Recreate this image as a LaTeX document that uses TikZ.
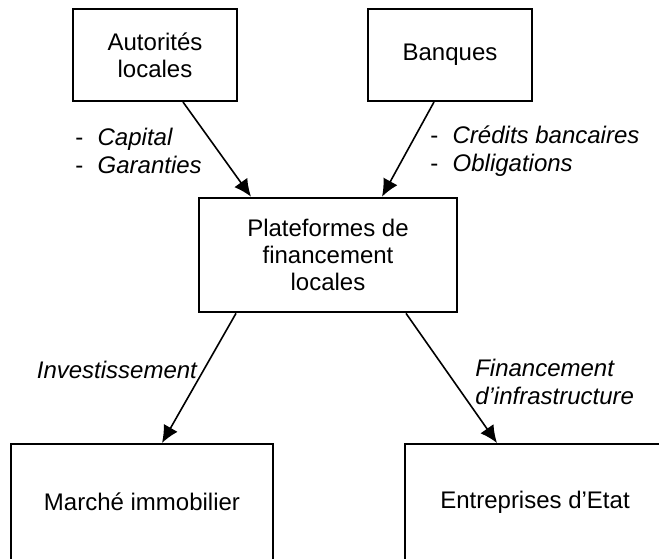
\documentclass[tikz,border=0pt]{standalone}
\usepackage{fontspec}
\setmainfont{Liberation Sans}
\usetikzlibrary{arrows.meta}
\begin{document}
\begin{tikzpicture}[x=0.75pt,y=-0.75pt,
  box/.style={draw, line width=1.5pt, align=center, inner sep=0pt, font=\fontsize{18}{20.5}\selectfont},
  lbl/.style={inner sep=0pt, align=left, font=\fontsize{18}{21}\selectfont},
  flow/.style={draw, line width=1.2pt, -{Latex[length=13pt,width=12pt]}}]
\useasboundingbox (0,0) rectangle (659,558);
\clip (0,0) rectangle (659,558);
\node[box, minimum width=123pt, minimum height=69pt] (aut) at (155,55) {Autorités\\locales};
\node[box, minimum width=123pt, minimum height=69pt] (banq) at (450,55) {Banques};
\node[box, minimum width=193.5pt, minimum height=86pt] (plat) at (328,255) {Plateformes de\\financement\\locales};
\node[box, minimum width=196.5pt, minimum height=87pt] (marche) at (142,502) {Marché immobilier};
\node[box, minimum width=195pt, minimum height=87pt] (etat) at (535,502) {Entreprises d'Etat};

% labels
\node[lbl, anchor=west] (capital) at (75,151) {-\hspace{0.6em}\textit{Capital}\\-\hspace{0.6em}\textit{Garanties}};
\node[lbl, anchor=west] (credits) at (430,151) {-\hspace{0.6em}\textit{Crédits bancaires}\\-\hspace{0.6em}\textit{Obligations}};
\node[lbl, anchor=east] (invest) at (198,370) {\textit{Investissement}};
\node[lbl, anchor=west] (infra) at (475,382) {\textit{Financement}\\\textit{d'infrastructure}};

\path[flow] ([xshift=21pt]aut.south) -- ([xshift=-57.75pt]plat.north);
\path[flow] ([xshift=-12pt]banq.south) -- ([xshift=40.5pt]plat.north);
\path[flow] ([xshift=-69pt]plat.south) -- ([xshift=15pt]marche.north);
\path[flow] ([xshift=58.5pt]plat.south) -- ([xshift=-28.5pt]etat.north);
\end{tikzpicture}
\end{document}
